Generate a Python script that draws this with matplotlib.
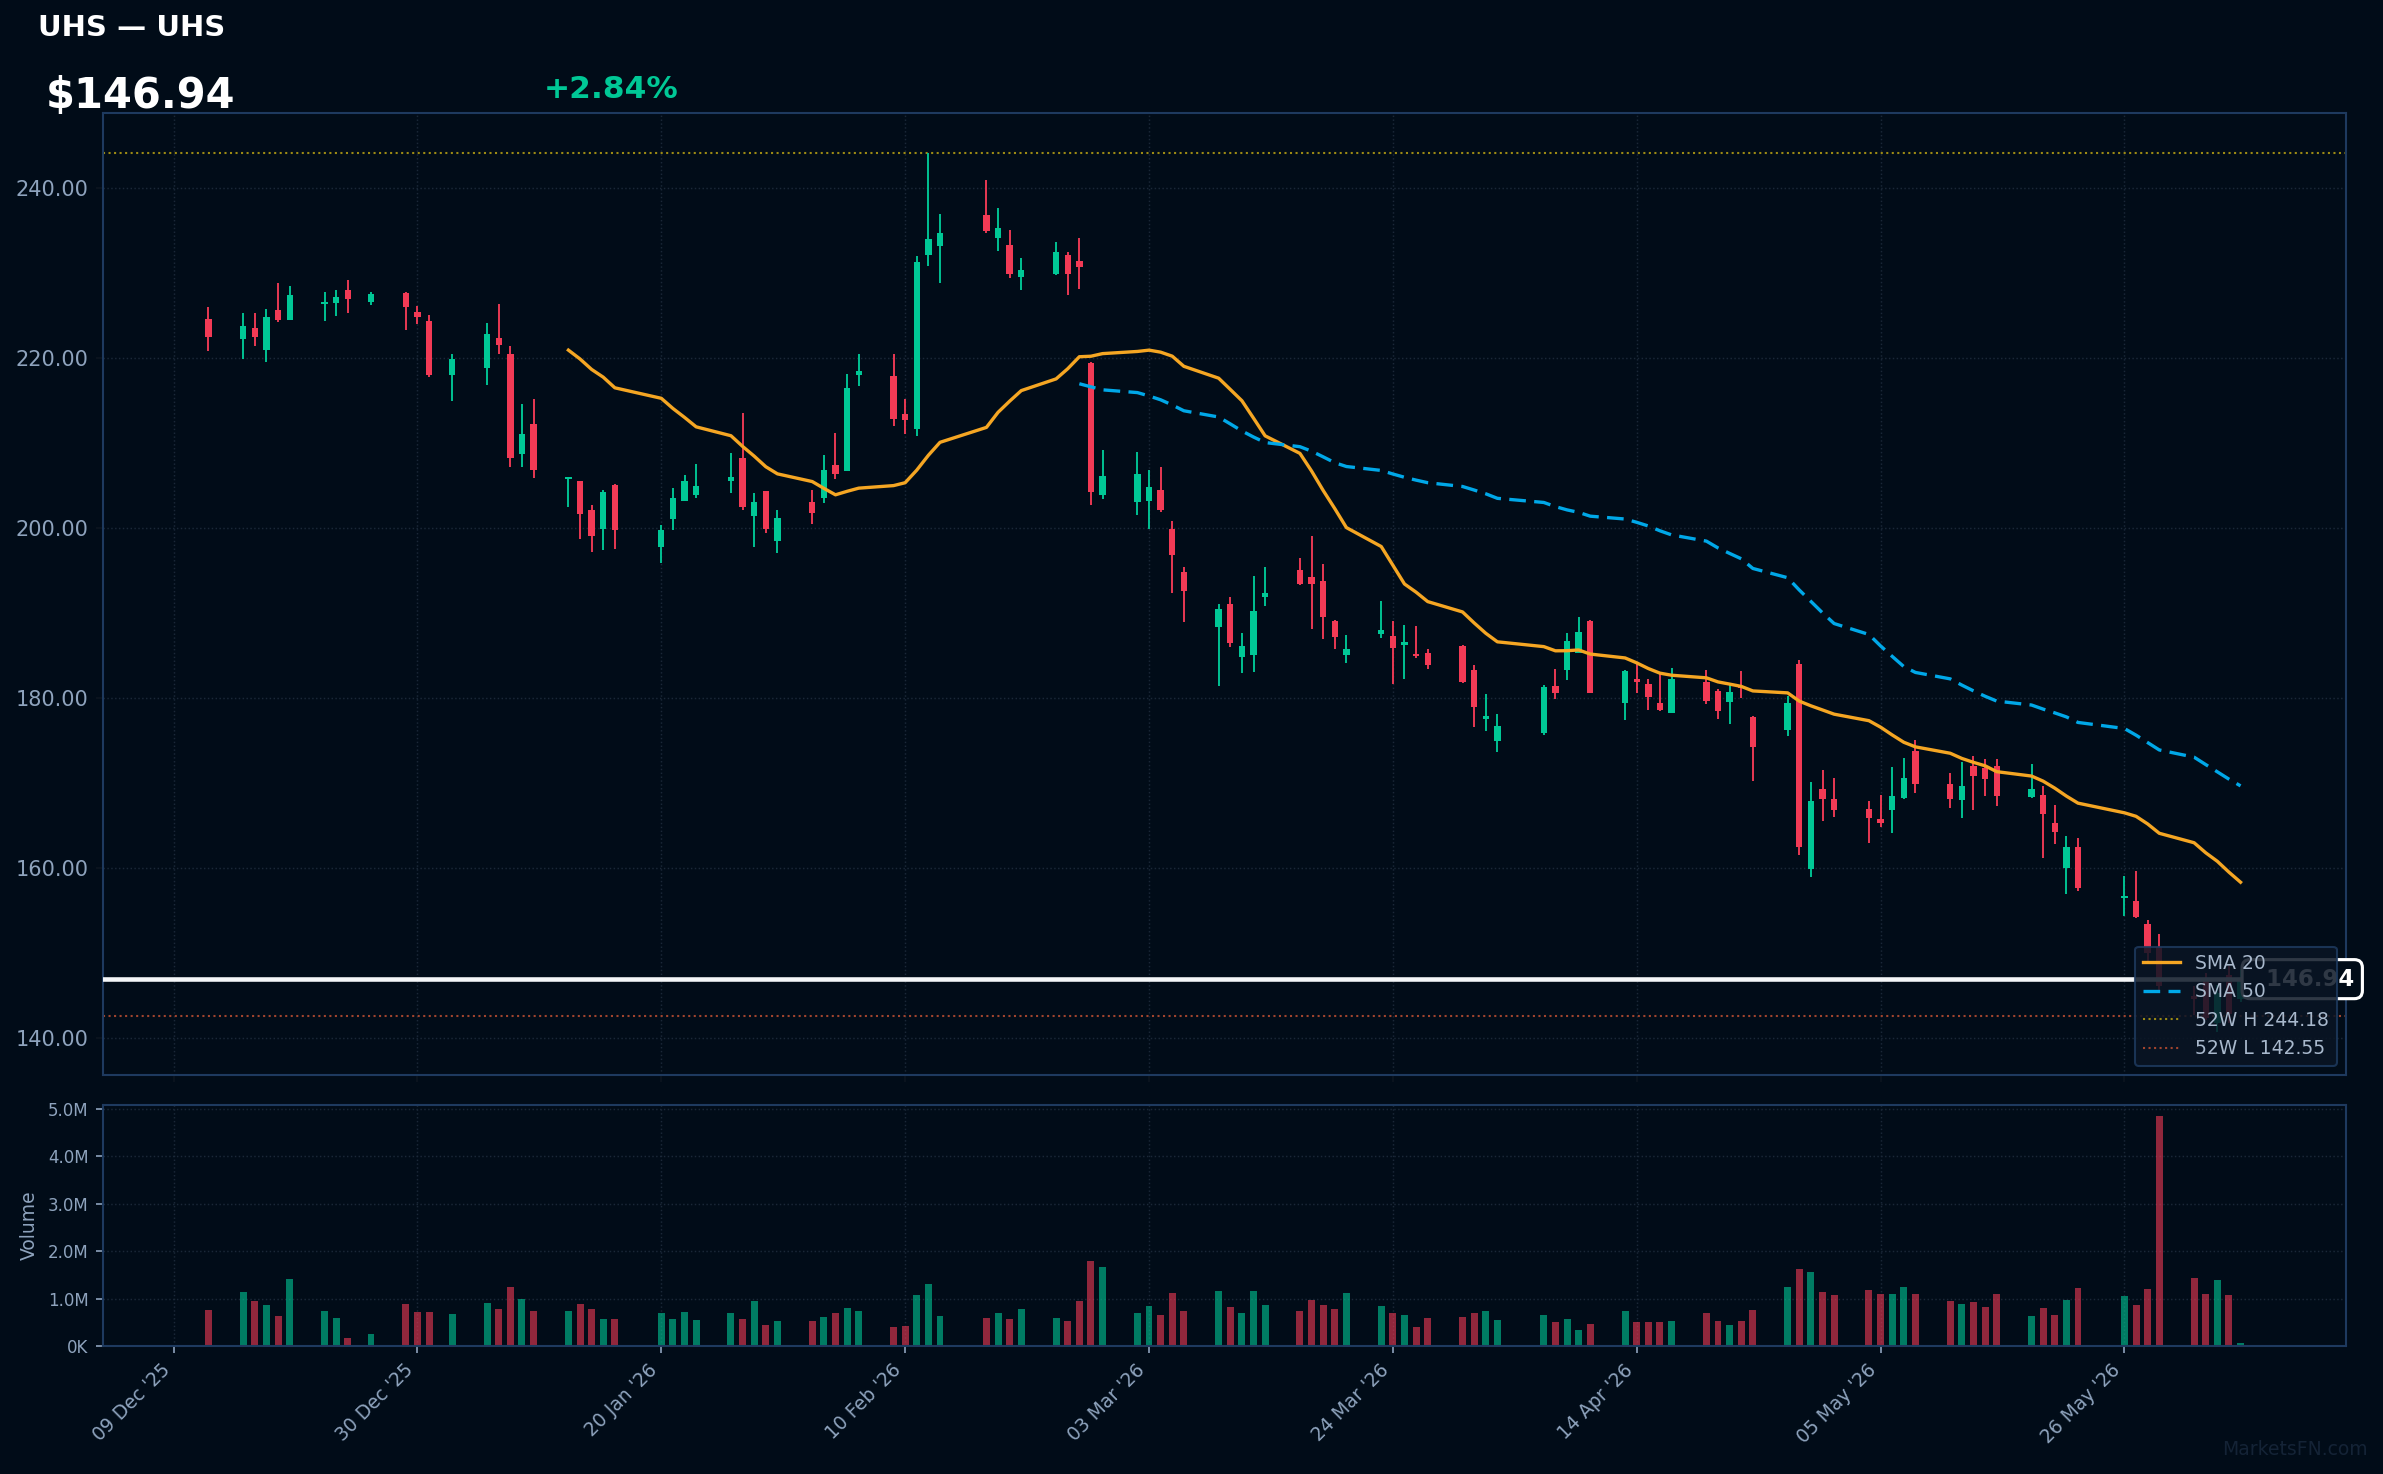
# UHS 일봉 캔들 차트 + 거래량 (다크 테마)
import numpy as np
import pandas as pd
import matplotlib
matplotlib.use('Agg')
import matplotlib.pyplot as plt
import matplotlib.dates as mdates
import matplotlib.transforms as mtransforms
from matplotlib.ticker import FuncFormatter

# 거래일 (NYSE 휴장일 제외)
holidays = ['2025-12-25', '2026-01-01', '2026-01-19', '2026-02-16', '2026-04-03', '2026-05-25']
dates = pd.bdate_range('2025-12-12', '2026-06-05', freq='C', holidays=holidays)

opens = [224.63, 222.27, 223.56, 220.98, 225.70, 224.49, 226.34, 226.49, 228.06, 226.63,
         227.70, 225.49, 224.41, 217.98, 218.91, 222.41, 220.48, 208.69, 212.26, 205.75,
         205.54, 202.18, 199.90, 205.04, 197.82, 201.04, 203.26, 203.97, 205.61, 208.26,
         201.40, 204.33, 198.54, 203.04, 203.61, 207.40, 206.69, 218.05, 217.91, 213.41,
         211.69, 232.13, 233.21, 236.92, 234.14, 233.35, 229.56, 229.92, 232.21, 231.49,
         219.41, 203.90, 203.11, 203.26, 204.47, 199.97, 194.89, 188.39, 191.03, 184.81,
         185.03, 191.89, 195.04, 194.25, 193.75, 189.03, 185.03, 187.53, 187.32, 186.32,
         185.17, 185.31, 186.17, 183.31, 177.59, 175.02, 175.95, 181.45, 183.31, 185.31,
         189.10, 179.38, 182.31, 181.67, 179.45, 178.31, 181.95, 180.88, 179.52, 181.45,
         177.81, 176.24, 184.03, 159.94, 169.37, 168.16, 166.95, 165.73, 166.87, 168.30,
         173.81, 169.91, 168.07, 172.07, 171.83, 172.03, 168.38, 168.61, 165.32, 159.98,
         162.49, 156.49, 156.13, 153.42, 150.70, 145.00, 146.67, 141.75, 147.40, 144.55]
highs = [226.06, 225.34, 225.34, 225.84, 228.85, 228.56, 227.84, 228.06, 229.20, 227.84,
         227.77, 226.20, 225.13, 220.48, 224.13, 226.42, 221.41, 214.62, 215.19, 206.04,
         205.60, 202.68, 204.47, 205.19, 200.33, 204.69, 206.26, 207.62, 208.83, 213.55,
         204.11, 204.40, 202.18, 204.47, 208.62, 211.19, 218.12, 220.48, 220.48, 215.19,
         232.06, 244.18, 236.99, 241.00, 237.64, 235.14, 231.85, 233.71, 232.56, 234.21,
         219.55, 209.26, 208.97, 206.83, 207.26, 200.83, 195.39, 191.10, 191.89, 187.67,
         194.39, 195.39, 196.54, 199.04, 195.82, 189.17, 187.46, 191.46, 189.03, 188.67,
         188.53, 185.81, 186.31, 183.96, 180.52, 178.17, 181.60, 183.46, 187.67, 189.60,
         189.24, 183.31, 184.03, 182.31, 182.96, 183.60, 183.31, 181.10, 181.74, 183.24,
         177.95, 180.31, 184.53, 170.16, 171.52, 170.59, 167.87, 168.59, 171.88, 172.95,
         175.09, 171.21, 172.50, 173.21, 172.85, 172.85, 172.27, 169.68, 167.44, 163.79,
         163.55, 159.08, 159.67, 153.95, 152.20, 146.16, 147.64, 146.27, 148.45, 148.10]
lows = [220.84, 219.91, 221.41, 219.55, 224.27, 224.49, 224.41, 224.99, 225.34, 226.27,
        223.34, 224.06, 217.77, 214.98, 216.84, 220.48, 207.26, 207.19, 205.97, 202.54,
        198.68, 197.25, 197.47, 197.61, 195.96, 199.83, 203.26, 203.54, 204.11, 202.18,
        197.75, 199.47, 197.11, 200.47, 202.97, 205.76, 206.69, 216.69, 211.98, 211.05,
        210.90, 230.85, 228.85, 234.71, 232.63, 229.42, 227.99, 229.78, 227.42, 228.20,
        202.68, 203.47, 201.61, 199.97, 201.97, 192.39, 188.96, 181.38, 186.03, 182.96,
        183.03, 190.82, 193.32, 188.10, 186.96, 185.74, 184.10, 187.10, 181.67, 182.31,
        184.74, 183.46, 181.74, 176.59, 176.09, 173.73, 175.66, 179.95, 182.17, 185.31,
        180.60, 177.38, 180.60, 178.67, 178.45, 178.24, 179.31, 177.59, 177.02, 180.02,
        170.23, 175.59, 161.51, 159.01, 165.59, 166.02, 162.94, 164.87, 164.16, 168.16,
        168.80, 167.12, 165.95, 166.85, 168.50, 167.32, 168.30, 161.23, 162.88, 157.00,
        157.35, 154.41, 154.17, 149.10, 145.60, 142.74, 142.14, 140.77, 141.75, 144.20]
closes = [222.49, 223.77, 222.48, 224.84, 224.56, 227.49, 226.63, 227.20, 226.99, 227.56,
          225.99, 224.91, 217.98, 219.91, 222.84, 221.55, 208.26, 211.05, 206.90, 205.90,
          201.68, 199.11, 204.26, 199.83, 199.83, 203.61, 205.61, 204.97, 206.04, 202.47,
          203.04, 199.97, 201.25, 201.75, 206.90, 206.33, 216.48, 218.48, 212.91, 212.69,
          231.35, 233.99, 234.78, 234.99, 235.28, 229.92, 230.42, 232.56, 229.92, 230.70,
          204.26, 206.12, 206.33, 204.83, 202.18, 196.89, 192.61, 190.46, 186.46, 186.10,
          190.32, 192.39, 193.46, 193.46, 189.53, 187.17, 185.81, 188.03, 185.89, 186.60,
          184.96, 183.96, 181.96, 178.95, 177.88, 176.74, 181.31, 180.60, 186.74, 187.82,
          180.67, 183.24, 181.88, 180.10, 178.67, 182.31, 179.67, 178.45, 180.74, 181.17,
          174.31, 179.38, 162.51, 167.94, 168.09, 166.87, 165.94, 165.37, 168.44, 170.59,
          169.87, 168.18, 169.68, 170.89, 170.54, 168.54, 169.32, 166.42, 164.30, 162.49,
          157.70, 156.64, 154.25, 150.00, 146.10, 144.60, 142.34, 145.29, 142.88, 146.94]
# 거래량 (백만주)
volumes = [0.757, 1.139, 0.948, 0.863, 0.629, 1.414, 0.735, 0.587, 0.163, 0.248,
           0.884, 0.714, 0.714, 0.672, 0.905, 0.778, 1.245, 0.983, 0.735, 0.735,
           0.884, 0.778, 0.566, 0.566, 0.693, 0.566, 0.714, 0.545, 0.693, 0.566,
           0.948, 0.438, 0.523, 0.523, 0.608, 0.693, 0.799, 0.735, 0.396, 0.417,
           1.075, 1.308, 0.629, 0.587, 0.693, 0.566, 0.778, 0.587, 0.523, 0.948,
           1.796, 1.669, 0.693, 0.842, 0.651, 1.117, 0.735, 1.160, 0.820, 0.693,
           1.160, 0.863, 0.735, 0.969, 0.863, 0.778, 1.117, 0.842, 0.693, 0.651,
           0.396, 0.587, 0.608, 0.693, 0.735, 0.545, 0.651, 0.502, 0.566, 0.332,
           0.460, 0.735, 0.502, 0.502, 0.502, 0.523, 0.693, 0.523, 0.438, 0.523,
           0.757, 1.245, 1.627, 1.563, 1.139, 1.075, 1.181, 1.096, 1.096, 1.245,
           1.096, 0.948, 0.884, 0.926, 0.820, 1.096, 0.629, 0.799, 0.651, 0.969,
           1.223, 1.054, 0.863, 1.202, 4.844, 1.436, 1.096, 1.393, 1.075, 0.057]

ticker = 'UHS'
last_price = 146.94
change_pct = 2.84
high_52w = 244.18
low_52w = 142.55
tick_dates = ['2025-12-09', '2025-12-30', '2026-01-20', '2026-02-10', '2026-03-03',
              '2026-03-24', '2026-04-14', '2026-05-05', '2026-05-26']
price_ticks = [140, 160, 180, 200, 220, 240]
vol_ticks = [0, 1e6, 2e6, 3e6, 4e6, 5e6]

# 색상
bg = '#010c18'
up_color = '#00c896'
down_color = '#f23a55'
text_color = '#8ea3bd'
spine_color = '#1e3a5f'
grid_color = '#1b2838'

df = pd.DataFrame({'open': opens, 'high': highs, 'low': lows, 'close': closes,
                   'volume': np.array(volumes) * 1e6}, index=dates)
df['sma20'] = df['close'].rolling(20).mean()
df['sma50'] = df['close'].rolling(50).mean()
is_up = df['close'] >= df['open']
colors = np.where(is_up, up_color, down_color)
x = mdates.date2num(df.index.to_pydatetime())

fig = plt.figure(figsize=(2383 / 150, 1474 / 150), dpi=150, facecolor=bg)
ax = fig.add_axes([0.04322, 0.27069, 0.94125, 0.65265], facecolor=bg)
axv = fig.add_axes([0.04322, 0.08684, 0.94125, 0.16350], facecolor=bg, sharex=ax)

# 캔들 (심지 + 몸통)
ax.vlines(x, df['low'], df['high'], colors=colors, linewidth=0.9, zorder=2)
body_bottom = np.minimum(df['open'], df['close'])
body_height = np.maximum(np.abs(df['close'] - df['open']), 0.25)
ax.bar(x, body_height, bottom=body_bottom, width=0.55, color=colors, linewidth=0, zorder=3)

# 이동평균선
ax.plot(x, df['sma20'], color='#f5a623', linewidth=1.6, label='SMA 20', zorder=4)
ax.plot(x, df['sma50'], color='#00a8e8', linewidth=1.6, linestyle='--', dashes=(5, 2.5),
        label='SMA 50', zorder=4)

# 52주 고가/저가, 현재가
ax.axhline(high_52w, color='#9c8a14', linestyle=':', linewidth=1.0,
           label=f'52W H {high_52w:.2f}', zorder=1)
ax.axhline(low_52w, color='#a0442e', linestyle=':', linewidth=1.0,
           label=f'52W L {low_52w:.2f}', zorder=1)
ax.axhline(last_price, color='#f4f6f8', linewidth=2.2, zorder=4)
trans = mtransforms.blended_transform_factory(ax.transAxes, ax.transData)
ax.text(0.9805, last_price, f'  {last_price:.2f}', transform=trans, ha='center', va='center',
        color='white', fontsize=11, fontweight='bold', zorder=4.5, clip_on=False,
        bbox=dict(boxstyle='round,pad=0.35', fc=bg, ec='white', lw=1.5))

ax.set_ylim(135.66, 248.87)
ax.set_yticks(price_ticks)
ax.yaxis.set_major_formatter(FuncFormatter(lambda v, p: f'{v:.2f}'))

# 거래량
axv.bar(x, df['volume'], width=0.6, color=colors, alpha=0.6, linewidth=0)
axv.set_ylim(0, df['volume'].max() * 1.05)
axv.set_yticks(vol_ticks)
axv.yaxis.set_major_formatter(FuncFormatter(lambda v, p: '0K' if v == 0 else f'{v / 1e6:.1f}M'))
axv.set_ylabel('Volume', color=text_color, fontsize=9)

axv.set_xticks(mdates.date2num(pd.to_datetime(tick_dates).to_pydatetime()))
axv.xaxis.set_major_formatter(mdates.DateFormatter("%d %b '%y"))
plt.setp(axv.get_xticklabels(), rotation=45, ha='right')
ax.tick_params(axis='x', labelbottom=False)

for a in (ax, axv):
    a.grid(True, color=grid_color, linestyle=':', linewidth=0.7)
    a.set_axisbelow(True)
    for s in a.spines.values():
        s.set_color(spine_color)
        s.set_linewidth(1.0)
    a.tick_params(labelcolor=text_color, which='both')
ax.tick_params(axis='both', color='#0d1520')
axv.tick_params(axis='both', color=text_color)
ax.tick_params(axis='y', labelsize=10)
axv.tick_params(axis='y', labelsize=8)
axv.tick_params(axis='x', labelsize=9)

leg = ax.legend(loc='lower right', fontsize=9, facecolor='#0a1524', edgecolor=spine_color,
                framealpha=0.85, labelcolor='#a8b8cc')
leg.set_zorder(6)

# 상단 제목/가격
fig.text(0.016, 0.9756, f'{ticker} — {ticker}', color='white', fontsize=14,
         fontweight='bold', va='baseline')
fig.text(0.019, 0.9267, f'${last_price:.2f}', color='white', fontsize=20,
         fontweight='bold', va='baseline')
fig.text(0.228, 0.9333, f'{change_pct:+.2f}%', color='#00c896', fontsize=15,
         fontweight='bold', va='baseline')
fig.text(0.9937, 0.0129, 'MarketsFN.com', color='#142336', fontsize=9,
         ha='right', va='baseline')

plt.savefig('out.png', dpi=150, facecolor=bg)
